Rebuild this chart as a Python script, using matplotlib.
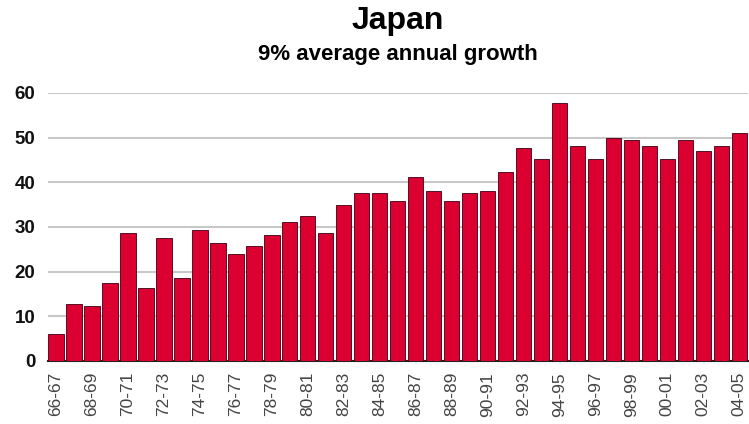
import matplotlib.pyplot as plt

# -------------------------------
# DATA
# -------------------------------
years = [f"{y % 100:02d}-{(y + 1) % 100:02d}" for y in range(1966, 2005)]
values = [6.1, 12.8, 12.2, 17.5, 28.6, 16.4, 27.4, 18.6, 29.3, 26.4,
          24.0, 25.8, 28.1, 31.0, 32.4, 28.6, 35.0, 37.5, 37.5, 35.7,
          41.1, 38.1, 35.7, 37.5, 38.1, 42.3, 47.6, 45.2, 57.7, 48.1,
          45.2, 49.9, 49.4, 48.1, 45.2, 49.4, 47.0, 48.1, 51.1]
yticks = [0, 10, 20, 30, 40, 50, 60]

plt.rcParams['font.family'] = ['Liberation Sans', 'DejaVu Sans']

fig = plt.figure(figsize=(7.49, 4.24), dpi=100)
ax = fig.add_axes([0.064, 0.149, 0.935, 0.632])

x = list(range(len(values)))
ax.bar(x, values, width=0.86, color="#dc0030", edgecolor="#3a0010", linewidth=0.6, zorder=3)

ax.set_ylim(0, 60)
ax.set_xlim(-0.45, len(values) - 0.5)
ax.set_yticks(yticks)
ax.set_yticklabels([str(t) for t in yticks], fontsize=13.5, fontweight="bold", color="#111111")
ax.yaxis.grid(True, color="#c8c8c8", linewidth=1.5, zorder=0)

ax.set_xticks(x[::2])
ax.set_xticklabels(years[::2], rotation=90, fontsize=12.5, color="#444444")
ax.tick_params(axis="both", length=0)
ax.tick_params(axis="x", pad=8)
ax.tick_params(axis="y", pad=9)

for s in ["top", "right", "left"]:
    ax.spines[s].set_visible(False)
ax.spines["bottom"].set_color("#222222")
ax.spines["bottom"].set_linewidth(1.5)

fig.text(0.531, 0.95, "Japan", ha="center", va="center", fontsize=23, fontweight="bold")
fig.text(0.531, 0.871, "9% average annual growth", ha="center", va="center", fontsize=16, fontweight="bold")

fig.savefig("out.png", dpi=100)
